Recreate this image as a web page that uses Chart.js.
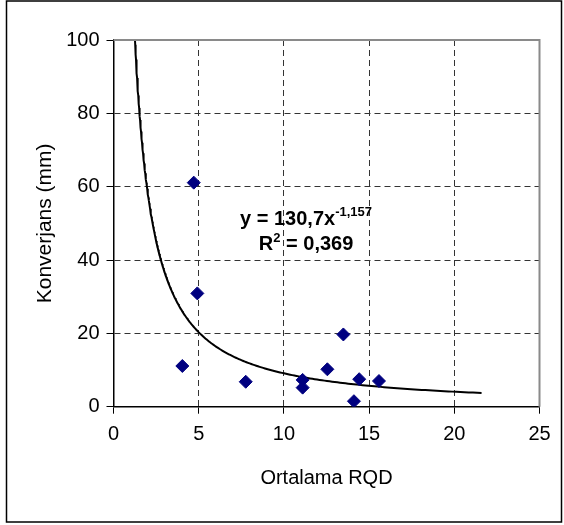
<!DOCTYPE html>
<html>
<head>
<meta charset="utf-8">
<script src="https://cdn.jsdelivr.net/npm/chart.js@4.4.0/dist/chart.umd.min.js"></script>
<style>
  html, body { margin: 0; padding: 0; background: #fff; }
  canvas { display: block; }
</style>
</head>
<body>
<canvas id="c" width="564" height="525"></canvas>
<script>
// Measured convergence against mean RQD
const rqd        = [4.71, 4.92, 4.04, 7.76, 11.10, 11.10, 12.55, 13.49, 14.42, 14.11, 15.58];
const konverjans = [61.1, 30.9, 11.1, 6.8, 7.3, 5.2, 10.2, 19.7, 7.5, 1.5, 7.0];

// Axis ticks
const xTicks = [0, 5, 10, 15, 20, 25];
const yTicks = [0, 20, 40, 60, 80, 100];

// Power trendline y = a * x^b and its fit quality
const fitA = 130.7;
const fitB = -1.157;
const fitR2 = 0.369;
const fitRange = [1.26, 21.6];

const FONT = "'Liberation Sans', Arial, sans-serif";

const fmt = (v) => String(v).replace('.', ',');

// Trendline sampled along the fitted range
const trend = [];
const steps = 240;
for (let i = 0; i <= steps; i++) {
  const x = fitRange[0] * Math.pow(fitRange[1] / fitRange[0], i / steps);
  trend.push({ x: x, y: fitA * Math.pow(x, fitB) });
}

const points = rqd.map((x, i) => ({ x: x, y: konverjans[i] }));

const decor = {
  id: 'decor',
  afterDraw(chart) {
    const { ctx, chartArea: a, scales } = chart;
    ctx.save();
    // plot area edge (top and right)
    ctx.strokeStyle = '#8a8a8a';
    ctx.lineWidth = 2;
    ctx.beginPath();
    ctx.moveTo(a.left, a.top);
    ctx.lineTo(a.right, a.top);
    ctx.lineTo(a.right, a.bottom);
    ctx.stroke();

    // outer chart frame
    ctx.strokeStyle = '#000';
    ctx.lineWidth = 1.5;
    ctx.strokeRect(6.5, 1, 555, 521);

    // equation label
    ctx.fillStyle = '#000';
    ctx.textBaseline = 'alphabetic';
    ctx.textAlign = 'left';
    const big = 'bold 20px ' + FONT;
    const small = 'bold 13px ' + FONT;
    const cx = scales.x.getPixelForValue(11.3);

    const l1a = 'y = ' + fmt(fitA) + 'x';
    const l1b = fmt(fitB);
    ctx.font = big; const w1a = ctx.measureText(l1a).width;
    ctx.font = small; const w1b = ctx.measureText(l1b).width;
    let x0 = cx - (w1a + w1b) / 2;
    const y1 = scales.y.getPixelForValue(49.6);
    ctx.font = big; ctx.fillText(l1a, x0, y1);
    ctx.font = small; ctx.fillText(l1b, x0 + w1a, y1 - 9);

    const l2a = 'R';
    const l2b = '2';
    const l2c = ' = ' + fmt(fitR2.toFixed(3));
    ctx.font = big; const w2a = ctx.measureText(l2a).width; const w2c = ctx.measureText(l2c).width;
    ctx.font = small; const w2b = ctx.measureText(l2b).width;
    x0 = cx - (w2a + w2b + w2c) / 2;
    const y2 = scales.y.getPixelForValue(42.6);
    ctx.font = big; ctx.fillText(l2a, x0, y2);
    ctx.font = small; ctx.fillText(l2b, x0 + w2a, y2 - 8);
    ctx.font = big; ctx.fillText(l2c, x0 + w2a + w2b, y2);
    ctx.restore();
  }
};

const edgeOr = (edges, col) => (c) =>
  (c.tick && edges.includes(c.tick.value)) ? 'rgba(0,0,0,0)' : col;

new Chart(document.getElementById('c'), {
  type: 'scatter',
  data: {
    datasets: [
      {
        label: 'Konverjans',
        data: points,
        pointStyle: 'rectRot',
        pointRadius: 6.5,
        pointBackgroundColor: '#000080',
        pointBorderColor: '#000080',
        pointBorderWidth: 1,
        showLine: false
      },
      {
        label: 'Trend',
        data: trend,
        showLine: true,
        borderColor: '#000',
        borderWidth: 2,
        pointRadius: 0,
        tension: 0,
        fill: false
      }
    ]
  },
  options: {
    responsive: false,
    animation: false,
    events: [],
    layout: { padding: { left: 0, top: 40, right: 24.5, bottom: 0 } },
    plugins: {
      legend: { display: false },
      tooltip: { enabled: false }
    },
    scales: {
      x: {
        type: 'linear',
        min: 0, max: 25,
        afterBuildTicks: (s) => { s.ticks = xTicks.map(v => ({ value: v })); },
        afterFit: (s) => { s.height = 118.3; },
        grid: {
          color: edgeOr([0, 25], '#333'),
          lineWidth: 1,
          drawTicks: true,
          tickLength: 7,
          tickColor: '#000',
          tickWidth: 1,
          tickBorderDash: []
        },
        border: { display: true, color: '#000', width: 1.5, dash: [6, 4] },
        ticks: {
          color: '#000',
          padding: 9,
          maxRotation: 0,
          font: { family: FONT, size: 20 },
          callback: (v) => String(v)
        },
        title: {
          display: true,
          text: 'Ortalama RQD',
          color: '#000',
          font: { family: FONT, size: 20 },
          padding: { top: 0, bottom: 35 }
        }
      },
      y: {
        type: 'linear',
        min: 0, max: 100,
        afterBuildTicks: (s) => { s.ticks = yTicks.map(v => ({ value: v })); },
        afterFit: (s) => { s.width = 113.5; },
        grid: {
          color: edgeOr([0, 100], '#333'),
          lineWidth: 1,
          drawTicks: true,
          tickLength: 7,
          tickColor: '#000',
          tickWidth: 1,
          tickBorderDash: []
        },
        border: { display: true, color: '#000', width: 1.5, dash: [6, 4] },
        ticks: {
          color: '#000',
          padding: 7,
          font: { family: FONT, size: 20 },
          callback: (v) => String(v)
        },
        title: {
          display: true,
          text: 'Konverjans (mm)',
          color: '#000',
          font: { family: FONT, size: 21 },
          padding: { top: 33, bottom: 0 }
        }
      }
    }
  },
  plugins: [decor]
});
</script>
</body>
</html>
